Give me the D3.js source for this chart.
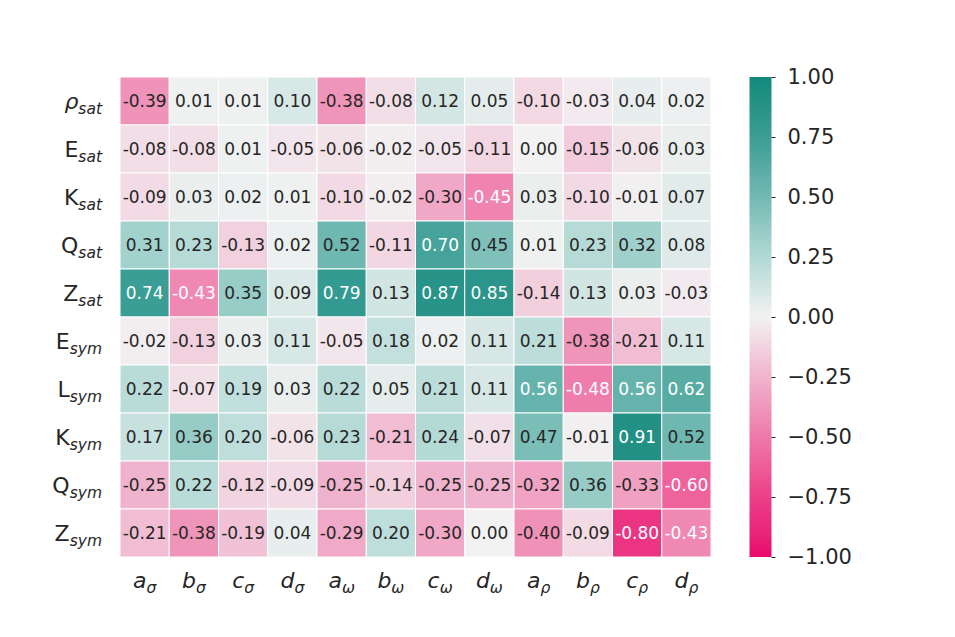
<!DOCTYPE html>
<html>
<head>
<meta charset="utf-8">
<script src="https://cdn.jsdelivr.net/npm/d3@7"></script>
<style>
  body { margin: 0; background: #fff; }
  text { font-family: "DejaVu Sans", sans-serif; fill: #262626; }
</style>
</head>
<body>
<div class="chart"></div>
<script>
// row labels: main letter + subscript
var rowMain = ["\u03C1", "E", "K", "Q", "Z", "E", "L", "K", "Q", "Z"];
var rowSub = ["sat", "sat", "sat", "sat", "sat", "sym", "sym", "sym", "sym", "sym"];
var colMain = ["a", "b", "c", "d", "a", "b", "c", "d", "a", "b", "c", "d"];
var colSub = ["\u03C3", "\u03C3", "\u03C3", "\u03C3", "\u03C9", "\u03C9", "\u03C9", "\u03C9", "\u03C1", "\u03C1", "\u03C1", "\u03C1"];

var values = [
  [-0.39, 0.01, 0.01, 0.10, -0.38, -0.08, 0.12, 0.05, -0.10, -0.03, 0.04, 0.02],
  [-0.08, -0.08, 0.01, -0.05, -0.06, -0.02, -0.05, -0.11, 0.00, -0.15, -0.06, 0.03],
  [-0.09, 0.03, 0.02, 0.01, -0.10, -0.02, -0.30, -0.45, 0.03, -0.10, -0.01, 0.07],
  [0.31, 0.23, -0.13, 0.02, 0.52, -0.11, 0.70, 0.45, 0.01, 0.23, 0.32, 0.08],
  [0.74, -0.43, 0.35, 0.09, 0.79, 0.13, 0.87, 0.85, -0.14, 0.13, 0.03, -0.03],
  [-0.02, -0.13, 0.03, 0.11, -0.05, 0.18, 0.02, 0.11, 0.21, -0.38, -0.21, 0.11],
  [0.22, -0.07, 0.19, 0.03, 0.22, 0.05, 0.21, 0.11, 0.56, -0.48, 0.56, 0.62],
  [0.17, 0.36, 0.20, -0.06, 0.23, -0.21, 0.24, -0.07, 0.47, -0.01, 0.91, 0.52],
  [-0.25, 0.22, -0.12, -0.09, -0.25, -0.14, -0.25, -0.25, -0.32, 0.36, -0.33, -0.60],
  [-0.21, -0.38, -0.19, 0.04, -0.29, 0.20, -0.30, 0.00, -0.40, -0.09, -0.80, -0.43]
];

var cbTicks = [1, 0.75, 0.5, 0.25, 0, -0.25, -0.5, -0.75, -1];

var W = 955, H = 637;
var hmLeft = 120, hmRight = 711, hmTop = 77, hmBottom = 557;

var svg = d3.select('.chart')
  .append('svg')
    .attr('width', W)
    .attr('height', H);

var x = d3.scaleBand().domain(d3.range(colMain.length)).range([hmLeft, hmRight]);
var y = d3.scaleBand().domain(d3.range(rowMain.length)).range([hmTop, hmBottom]);

var color = d3.scaleLinear()
  .domain([-1, -0.75, -0.5, -0.25, 0, 0.25, 0.5, 0.75, 1])
  .range(["#e8096d", "#ec3c88", "#ee78a9", "#f0b3cd", "#f2f2f2",
          "#b1d9d5", "#72bab3", "#389d95", "#12897c"])
  .interpolate(d3.interpolateLab)
  .clamp(true);

var cells = [];
values.forEach(function(row, i) {
  row.forEach(function(v, j) { cells.push({ r: i, c: j, v: v }); });
});

svg.append('g').selectAll('rect')
  .data(cells)
  .enter().append('rect')
    .attr('x', function(d) { return x(d.c); })
    .attr('y', function(d) { return y(d.r); })
    .attr('width', x.bandwidth())
    .attr('height', y.bandwidth())
    .attr('fill', function(d) { return color(d.v); })
    .attr('stroke', '#fff')
    .attr('stroke-width', 1);

svg.append('g').selectAll('text')
  .data(cells)
  .enter().append('text')
    .attr('x', function(d) { return x(d.c) + x.bandwidth() / 2; })
    .attr('y', function(d) { return y(d.r) + y.bandwidth() / 2; })
    .attr('text-anchor', 'middle')
    .attr('dominant-baseline', 'central')
    .style('font-size', '17px')
    .style('fill', function(d) { return (d.v >= 0.55 || d.v <= -0.42) ? '#fff' : '#262626'; })
    .text(function(d) { return d.v.toFixed(2); });

// row labels
var rl = svg.append('g').selectAll('text')
  .data(rowMain)
  .enter().append('text')
    .attr('x', 102)
    .attr('y', function(d, i) { return y(i) + y.bandwidth() / 2 + 8; })
    .attr('text-anchor', 'end')
    .style('font-size', '22px');
rl.append('tspan')
  .style('font-style', function(d, i) { return i === 0 ? 'italic' : 'normal'; })
  .text(function(d) { return d; });
rl.append('tspan')
  .attr('dy', 5)
  .style('font-size', '15.5px')
  .style('font-style', 'italic')
  .text(function(d, i) { return rowSub[i]; });

// column labels
var cl = svg.append('g').selectAll('text')
  .data(colMain)
  .enter().append('text')
    .attr('x', function(d, i) { return x(i) + x.bandwidth() / 2; })
    .attr('y', 588)
    .attr('text-anchor', 'middle')
    .style('font-size', '22px')
    .style('font-style', 'italic');
cl.append('tspan').text(function(d) { return d; });
cl.append('tspan')
  .attr('dy', 5)
  .style('font-size', '15.5px')
  .text(function(d, i) { return colSub[i]; });

// colorbar
var cbX = 749.5, cbW = 22;
var cbY = d3.scaleLinear().domain([-1, 1]).range([hmBottom, hmTop]);

var grad = svg.append('defs').append('linearGradient')
  .attr('id', 'cb')
  .attr('x1', 0).attr('y1', 1).attr('x2', 0).attr('y2', 0);
grad.selectAll('stop')
  .data(d3.range(0, 1.0001, 0.05))
  .enter().append('stop')
    .attr('offset', function(d) { return d; })
    .attr('stop-color', function(d) { return color(d * 2 - 1); });

svg.append('rect')
  .attr('x', cbX)
  .attr('y', hmTop)
  .attr('width', cbW)
  .attr('height', hmBottom - hmTop)
  .attr('fill', 'url(#cb)');

var cbAxis = d3.axisRight(cbY)
  .tickValues(cbTicks)
  .tickSize(4)
  .tickPadding(12)
  .tickFormat(function(d) { return d3.format('.2f')(d).replace('-', '\u2212'); });

var ag = svg.append('g')
  .attr('transform', 'translate(' + (cbX + cbW) + ',0)')
  .call(cbAxis);
ag.select('.domain').remove();
ag.selectAll('line').attr('stroke', '#262626').attr('stroke-width', 1);
ag.selectAll('text')
  .style('font-size', '21px')
  .style('font-family', '"DejaVu Sans", sans-serif')
  .attr('fill', '#262626');
</script>
</body>
</html>
